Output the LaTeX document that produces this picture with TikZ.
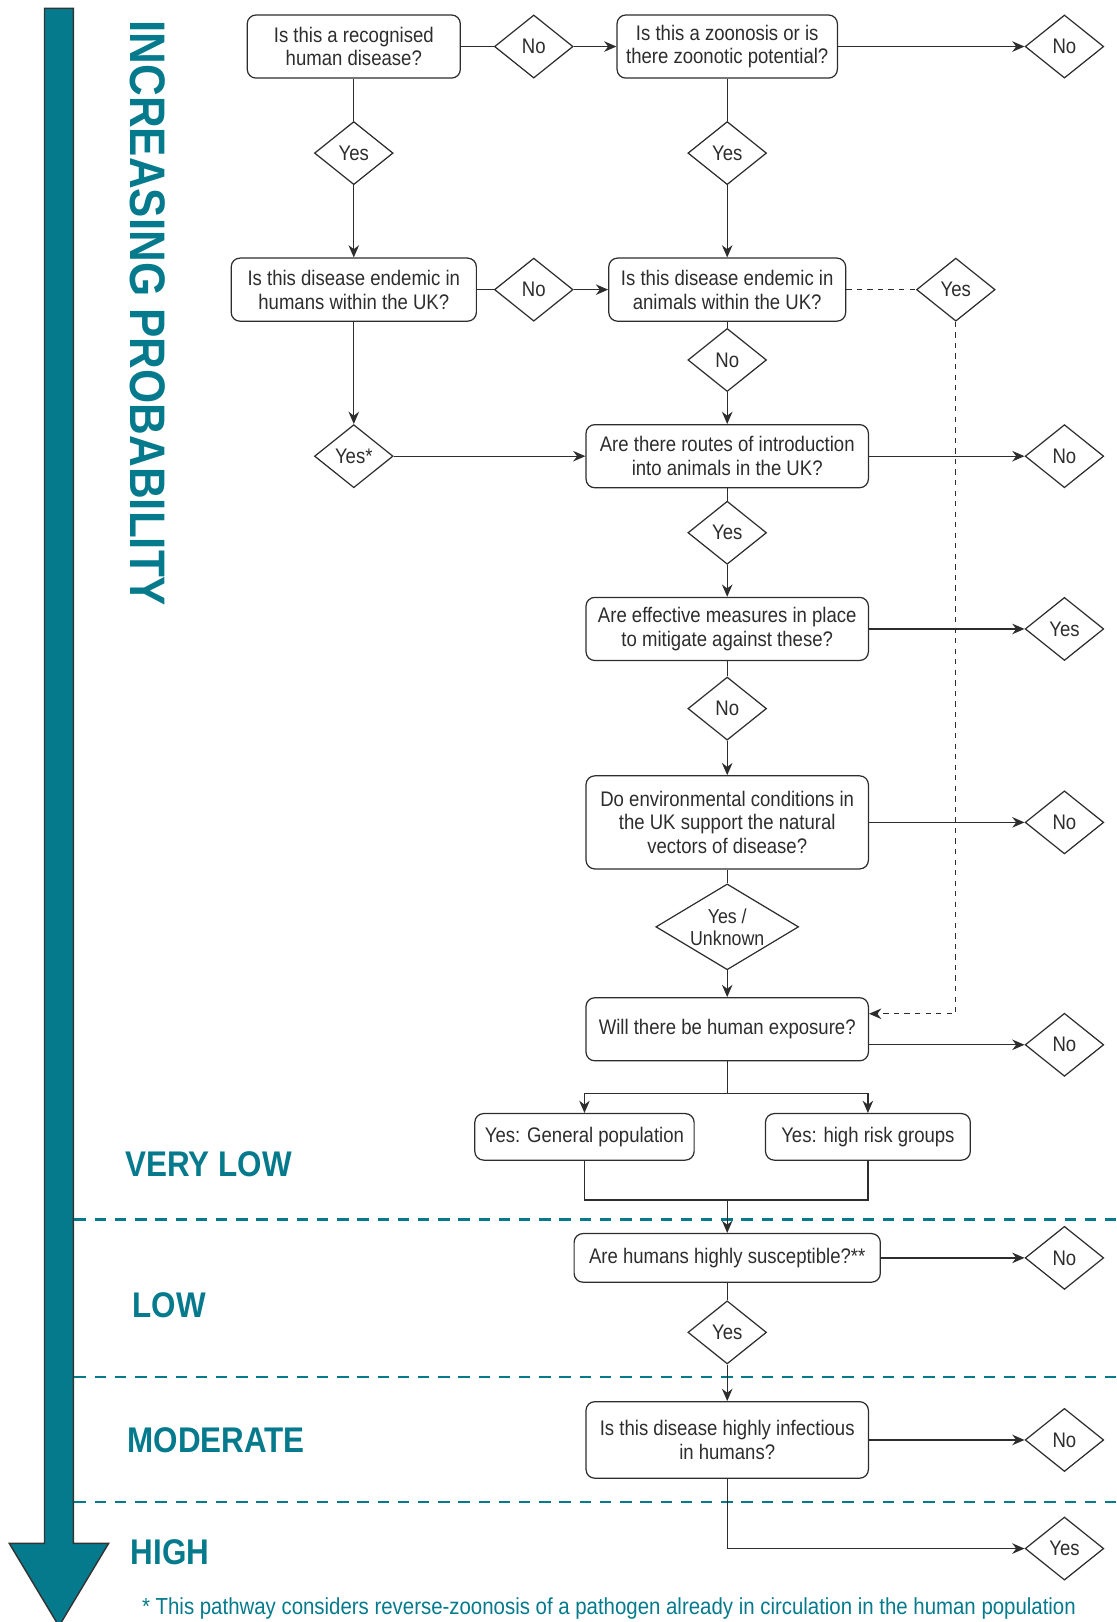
\documentclass[tikz,border=0pt]{standalone}
\usepackage{fontspec}
\setmainfont{Liberation Sans}[FakeStretch=0.88]
\usepackage{tikz}
\usetikzlibrary{arrows.meta,shapes.geometric}
\usepackage{xcolor}
\definecolor{riskteal}{RGB}{4,122,140}
\definecolor{inkgrey}{RGB}{45,45,45}
\newcommand{\pu}{0.020686cm}

\begin{document}
\begin{tikzpicture}[
  x=\pu, y=-\pu,
  ask/.style={rectangle, draw=inkgrey, line width=0.7pt, rounded corners=5pt,
              align=center, text=inkgrey, inner sep=2pt,
              minimum width=273*\pu, minimum height=61*\pu,
              font=\fontsize{12}{13.5}\selectfont},
  ans/.style={diamond, draw=inkgrey, line width=0.7pt, inner sep=0pt,
              align=center, text=inkgrey,
              minimum width=76*\pu, minimum height=61*\pu,
              font=\fontsize{12}{13.5}\selectfont},
  lvl/.style={anchor=west, inner sep=0pt, text=riskteal,
              font=\fontsize{20.3}{24}\selectfont\bfseries},
  band/.style={riskteal, line width=1.4pt, dash pattern=on 6.5pt off 5pt},
  flow/.style={draw=inkgrey, line width=0.7pt},
  >={Stealth[length=7pt,width=6pt]}
]
  \useasboundingbox (0,0) rectangle (1079,1568);

  %--- PROBABILITY ARROW ---
  \draw[fill=riskteal, draw=black!80, line width=0.8pt]
    (43,8) -- (71,8) -- (71,1492) -- (105,1492) -- (57,1572) -- (9,1492) -- (43,1492) -- cycle;
  \node[rotate=-90, text=riskteal, font=\fontsize{28.4}{30}\selectfont\bfseries]
    (trend) at (143,303) {INCREASING PROBABILITY};

  % Level bands
  \foreach \y in {1179,1331,1452}{
    \draw[band] (72,\y) -- (1079,\y);
  }
  \foreach \lbl/\x/\y in {VERY LOW/121/1125, LOW/128/1262, MODERATE/123/1392, HIGH/126/1501}{
    \node[lvl] at (\x,\y) {\lbl};
  }

  %--- LEFT COLUMN ---
  \node[ask, minimum width=206*\pu] (recog) at (342,45) {Is this a recognised\\human disease?};
  \node[ans] (yes1) at (342,148) {Yes};
  \node[ask, minimum width=237*\pu] (endh) at (342,280) {Is this disease endemic in\\humans within the UK?};
  \node[ans] (yes4) at (342,441) {Yes*};

  % Middle diamonds
  \node[ans] (no1) at (516,45) {No};
  \node[ans] (no3) at (516,280) {No};

  %--- MAIN COLUMN ---
  \node[ask, minimum width=213*\pu] (zoon) at (703,45) {Is this a zoonosis or is\\there zoonotic potential?};
  \node[ans] (yes2) at (703,148) {Yes};
  \node[ask, minimum width=229*\pu] (enda) at (703,280) {Is this disease endemic in\\animals within the UK?};
  \node[ans] (yes3) at (924,280) {Yes};
  \node[ans] (no4) at (703,348) {No};
  \node[ask] (route) at (703,441) {Are there routes of introduction\\into animals in the UK?};
  \node[ans] (yes5) at (703,515) {Yes};
  \node[ask] (mitig) at (703,608) {Are effective measures in place\\to mitigate against these?};
  \node[ans] (no6) at (703,685) {No};
  \node[ask, minimum height=90*\pu] (envir) at (703,795)
    {Do environmental conditions in\\the UK support the natural\\vectors of disease?};
  \node[ans, aspect=1.66, minimum width=138*\pu, minimum height=83*\pu,
        font=\fontsize{11.5}{12.5}\selectfont] (yesunk) at (703,896) {Yes /\\Unknown};
  \node[ask] (expo) at (703,995) {Will there be human exposure?};
  \node[ask, minimum width=212*\pu, minimum height=45*\pu] (genpop) at (565,1099) {Yes: General population};
  \node[ask, minimum width=198*\pu, minimum height=45*\pu] (hrisk) at (839,1099) {Yes: high risk groups};
  \node[ask, minimum width=296*\pu, minimum height=47*\pu] (suscep) at (703,1216) {Are humans highly susceptible?**};
  \node[ans] (yes7) at (703,1288) {Yes};
  \node[ask, minimum height=74*\pu] (infect) at (703,1392) {Is this disease highly infectious\\in humans?};

  %--- RIGHT COLUMN ---
  \foreach \n/\y/\lbl in {no2/45/No, no5/441/No, yes6/608/Yes, no7/795/No,
                          no8/1010/No, no9/1216/No, no10/1392/No, yes8/1497/Yes}{
    \node[ans] (\n) at (1029,\y) {\lbl};
  }

  \coordinate (fork) at (703,1057);
  \coordinate (merge) at (703,1160);

  %--- CONNECTORS ---
  \draw[flow] (recog) -- (no1);
  \draw[flow,->] (no1) -- (zoon);
  \draw[flow,->] (zoon) -- (no2);
  \draw[flow] (recog) -- (yes1);
  \draw[flow,->] (yes1) -- (endh);
  \draw[flow] (zoon) -- (yes2);
  \draw[flow,->] (yes2) -- (enda);
  \draw[flow] (endh) -- (no3);
  \draw[flow,->] (no3) -- (enda);
  \draw[flow,->] (endh) -- (yes4);
  \draw[flow,->] (yes4) -- (route);
  \draw[flow] (enda) -- (no4);
  \draw[flow,->] (no4) -- (route);
  \draw[flow,->] (route) -- (no5);
  \draw[flow] (route) -- (yes5);
  \draw[flow,->] (yes5) -- (mitig);
  \draw[flow,->] (mitig) -- (yes6);
  \draw[flow] (mitig) -- (no6);
  \draw[flow,->] (no6) -- (envir);
  \draw[flow,->] (envir) -- (no7);
  \draw[flow] (envir) -- (yesunk);
  \draw[flow,->] (yesunk) -- (expo);
  \draw[flow,->] (expo.east |- no8) -- (no8);
  % Exposure split and merge
  \draw[flow] (expo) -- (fork);
  \draw[flow,->] (fork) -| (genpop);
  \draw[flow,->] (fork) -| (hrisk);
  \draw[flow] (genpop) |- (merge) -| (hrisk);
  \draw[flow,->] (merge) -- (suscep);
  \draw[flow,->] (suscep) -- (no9);
  \draw[flow] (suscep) -- (yes7);
  \draw[flow,->] (yes7) -- (infect);
  \draw[flow,->] (infect) -- (no10);
  \draw[flow,->] (infect) |- (yes8);
  % Endemic in animals shortcut
  \draw[flow, dashed] (enda) -- (yes3);
  \draw[flow, dashed, ->] (yes3) |- ([yshift=15*\pu]expo.east);

  % Footnote
  \node[anchor=base west, inner sep=0pt, text=riskteal, font=\fontsize{13.2}{15}\selectfont] (note) at (137,1561)
    {* This pathway considers reverse-zoonosis of a pathogen already in circulation in the human population};
\end{tikzpicture}
\end{document}
